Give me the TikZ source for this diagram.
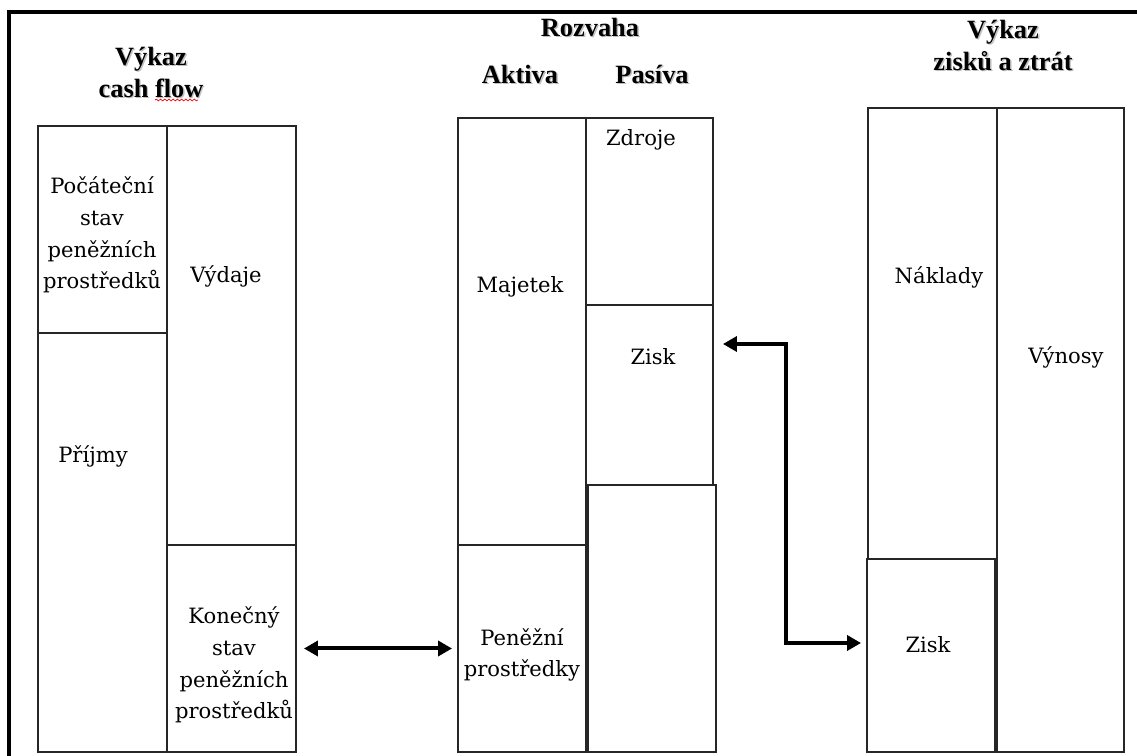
\documentclass[tikz,border=0pt]{standalone}
\usepackage{fontspec}
\setmainfont{Liberation Serif}
\newfontfamily\bodyfont{DejaVu Serif}
\usetikzlibrary{arrows.meta,fit,decorations.pathmorphing}
\newcommand{\stin}[1]{\makebox[0pt][l]{\kern0.8pt\raisebox{-0.8pt}{\color{black!25}#1}}#1}

\begin{document}
\begin{tikzpicture}[x=0.02cm,y=-0.02cm]
	\tikzset{cell/.style={draw=black!85, line width=1.1pt, inner sep=0pt}};
	\tikzset{txt/.style={font=\bodyfont\fontsize{12pt}{18pt}\selectfont, align=center, inner sep=0pt}};
	\tikzset{nadpis/.style={font=\fontsize{15pt}{18pt}\selectfont\bfseries, align=center, inner sep=0pt}};
	\tikzset{arr/.style={line width=0.08cm, {Triangle[length=0.28cm,width=0.3cm]}-{Triangle[length=0.28cm,width=0.3cm]}}};
	\useasboundingbox (0,0) rectangle (1137,756);

	\node[nadpis] (cftitle) at (151,73) {\stin{Výkaz}\\\stin{cash flow}};
	\node[nadpis] (rozvaha) at (590,28) {\stin{Rozvaha}};
	\node[nadpis] (aktiva) at (520,75) {\stin{Aktiva}};
	\node[nadpis] (pasiva) at (652,75) {\stin{Pasíva}};
	\node[nadpis] (vzztitle) at (1003,46) {\stin{Výkaz}\\\stin{zisků a ztrát}};

	\node[cell, fit={(38,126) (167,333)}] (pocatek) {};
	\node[cell, fit={(38,333) (167,752)}] (prijmy) {};
	\node[cell, fit={(167,126) (296,545)}] (vydaje) {};
	\node[cell, fit={(167,545) (296,752)}] (konecny) {};

	\node[cell, fit={(458,118) (586,545)}] (majetek) {};
	\node[cell, fit={(458,545) (586,752)}] (penize) {};
	\node[cell, fit={(586,118) (713,305)}] (zdroje) {};
	\node[cell, fit={(586,305) (713,485)}] (ziskbal) {};
	\node[cell, fit={(588,485) (716,752)}] (zbytek) {};

	\node[cell, fit={(868,108) (997,559)}] (naklady) {};
	\node[cell, fit={(867,559) (995,752)}] (ziskvz) {};
	\node[cell, fit={(997,108) (1124,752)}] (vynosy) {};

	\node[txt] (t1) at (102,235) {Počáteční\\stav\\peněžních\\prostředků};
	\node[txt] (t2) at (226,276) {Výdaje};
	\node[txt] (t3) at (93,456) {Příjmy};
	\node[txt] (t4) at (234,665) {Konečný\\stav\\peněžních\\prostředků};
	\node[txt] (t5) at (520,287) {Majetek};
	\node[txt] (t6) at (641,140) {Zdroje};
	\node[txt] (t7) at (653,357) {Zisk};
	\node[txt] (t8) at (522,655) {Peněžní\\prostředky};
	\node[txt] (t9) at (939,277) {Náklady};
	\node[txt] (t10) at (1066,357) {Výnosy};
	\node[txt] (t11) at (928,645) {Zisk};

	\coordinate (ohyb1) at (786,344);
	\coordinate (ohyb2) at (786,643);

	\draw[arr, shorten <=0.14cm, shorten >=0.1cm] (konecny.east) -- (penize.west);
	\draw[arr, shorten <=0.18cm, shorten >=0.1cm] (ziskbal.east |- ohyb1) -- (ohyb1) -- (ohyb2) -- (ziskvz.west |- ohyb2);

	\draw[line width=0.08cm] (9,756) -- (9,12) -- (1137,12);
	\draw[red, line width=0.4pt, decorate, decoration={snake, amplitude=0.5pt, segment length=2.4pt}] (155,100) -- (198,100);
\end{tikzpicture}
\end{document}
